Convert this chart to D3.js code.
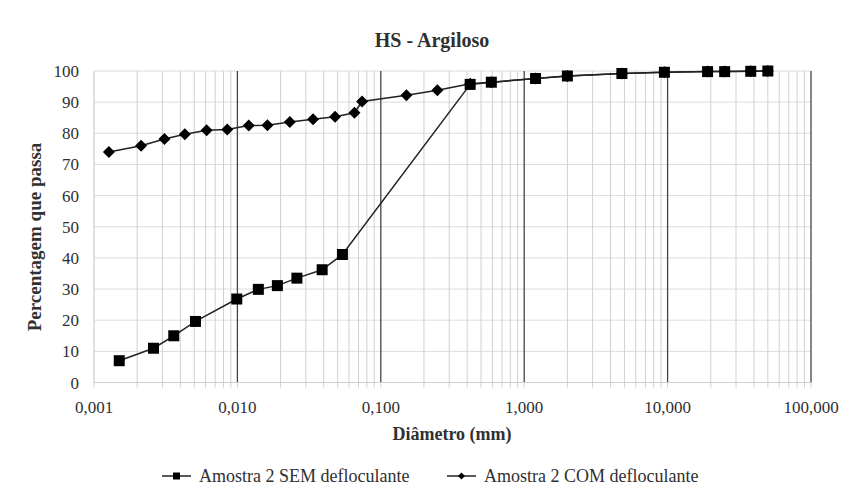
<!DOCTYPE html>
<html><head><meta charset="utf-8">
<script src="https://cdn.jsdelivr.net/npm/d3@7"></script>
<style>body{margin:0;background:#fff}svg{display:block}text{font-family:"Liberation Serif","Times New Roman",serif;fill:#303030}</style>
</head><body><svg id="c" width="855" height="494"></svg>
<script>
const title = "HS - Argiloso";
const xTitle = "Diâmetro (mm)";
const yTitle = "Percentagem que passa";
const seriesNames = ["Amostra 2 SEM defloculante", "Amostra 2 COM defloculante"];
const xTickValues = [0.001, 0.01, 0.1, 1, 10, 100];
const xTickLabels = ["0,001", "0,010", "0,100", "1,000", "10,000", "100,000"];
const yTickValues = [0, 10, 20, 30, 40, 50, 60, 70, 80, 90, 100];

const semDiam = [0.0015, 0.0026, 0.0036, 0.0051, 0.0099, 0.014, 0.019, 0.026, 0.039, 0.054, 0.42, 0.59, 1.2, 2.0, 4.8, 9.5, 19, 25, 38, 50];
const semPass = [7, 11, 15, 19.6, 26.8, 29.9, 31.1, 33.5, 36.2, 41.1, 95.7, 96.4, 97.6, 98.4, 99.2, 99.6, 99.8, 99.8, 99.9, 100];
const comDiam = [0.00127, 0.00213, 0.0031, 0.0043, 0.0061, 0.0085, 0.012, 0.0162, 0.0232, 0.0337, 0.048, 0.0655, 0.074, 0.151, 0.248, 0.42, 0.59, 1.2, 2.0, 4.8, 9.5, 19, 25, 38, 50];
const comPass = [74, 76, 78.2, 79.7, 81, 81.2, 82.5, 82.6, 83.6, 84.5, 85.3, 86.6, 90.2, 92.2, 93.8, 95.9, 96.4, 97.6, 98.4, 99.2, 99.6, 99.8, 99.8, 99.9, 100];

const svg = d3.select("#c");
const L = 94, R = 811, T = 71, B = 382.5;
const x = d3.scaleLog().domain([0.001, 100]).range([L, R]);
const y = d3.scaleLinear().domain([0, 100]).range([B, T]);

// minor vertical grid
const minor = [];
for (let e = -3; e < 2; e++) for (let m = 2; m <= 9; m++) minor.push(m * Math.pow(10, e));
const g = svg.append("g");
g.selectAll(".hg").data(yTickValues.filter(v => v > 0)).join("line")
  .attr("x1", L).attr("x2", R).attr("y1", d => y(d)).attr("y2", d => y(d))
  .attr("stroke", "#dcdcdc").attr("stroke-width", 1);
g.selectAll(".mv").data(minor).join("line")
  .attr("x1", d => x(d)).attr("x2", d => x(d)).attr("y1", T).attr("y2", B)
  .attr("stroke", "#d0d0d0").attr("stroke-width", 1);
g.selectAll(".mt").data(minor.concat(xTickValues)).join("line")
  .attr("x1", d => x(d)).attr("x2", d => x(d)).attr("y1", B).attr("y2", B + 5)
  .attr("stroke", "#d0d0d0").attr("stroke-width", 1);
g.selectAll(".Mv").data(xTickValues).join("line")
  .attr("x1", d => x(d)).attr("x2", d => x(d)).attr("y1", T).attr("y2", B)
  .attr("stroke", (d, i) => i === 0 ? "#d0d0d0" : "#444").attr("stroke-width", 1.3);
g.append("line").attr("x1", L).attr("x2", R).attr("y1", B).attr("y2", B).attr("stroke", "#d0d0d0");

// axis labels
svg.selectAll(".yl").data(yTickValues).join("text")
  .attr("x", 79).attr("y", d => y(d) + 6).attr("text-anchor", "end")
  .attr("font-size", 17).text(d => d);
svg.selectAll(".xl").data(xTickValues).join("text")
  .attr("x", d => x(d)).attr("y", 413).attr("text-anchor", "middle")
  .attr("font-size", 17).text((d, i) => xTickLabels[i]);

svg.append("text").attr("x", 432).attr("y", 47).attr("text-anchor", "middle")
  .attr("font-size", 20).attr("font-weight", "bold").attr("fill", "#222").text(title);
svg.append("text").attr("x", 452).attr("y", 440).attr("text-anchor", "middle")
  .attr("font-size", 18).attr("font-weight", "bold").attr("fill", "#222").text(xTitle);
svg.append("text").attr("transform", "translate(41,237) rotate(-90)").attr("text-anchor", "middle")
  .attr("font-size", 19).attr("font-weight", "bold").attr("fill", "#222").text(yTitle);

// series
const line = d3.line().x(d => x(d[0])).y(d => y(d[1]));
const semData = semDiam.map((d, i) => [d, semPass[i]]);
const comData = comDiam.map((d, i) => [d, comPass[i]]);
const sq = d3.symbol().type(d3.symbolSquare).size(121);
const dm = d3.symbol().type(d3.symbolSquare).size(72);

svg.append("path").datum(comData).attr("d", line).attr("fill", "none").attr("stroke", "#222").attr("stroke-width", 1.5);
svg.append("path").datum(semData).attr("d", line).attr("fill", "none").attr("stroke", "#222").attr("stroke-width", 1.5);
svg.selectAll(".cm").data(comData).join("path").attr("d", dm)
  .attr("transform", d => `translate(${x(d[0])},${y(d[1])}) rotate(45)`).attr("fill", "#000");
svg.selectAll(".sm").data(semData).join("path").attr("d", sq)
  .attr("transform", d => `translate(${x(d[0])},${y(d[1])})`).attr("fill", "#000");

// legend
const lg = [{x: 162, sym: d3.symbol().type(d3.symbolSquare).size(49), rot: 0}, {x: 447, sym: d3.symbol().type(d3.symbolSquare).size(25), rot: 45}];
lg.forEach((o, i) => {
  const ly = 476;
  svg.append("line").attr("x1", o.x).attr("x2", o.x + 29).attr("y1", ly).attr("y2", ly).attr("stroke", "#222").attr("stroke-width", 1.5);
  svg.append("path").attr("d", o.sym).attr("transform", `translate(${o.x + 14.5},${ly}) rotate(${o.rot})`).attr("fill", "#000");
  svg.append("text").attr("x", o.x + 37).attr("y", ly + 6).attr("font-size", 18).text(seriesNames[i]);
});
</script></body></html>
